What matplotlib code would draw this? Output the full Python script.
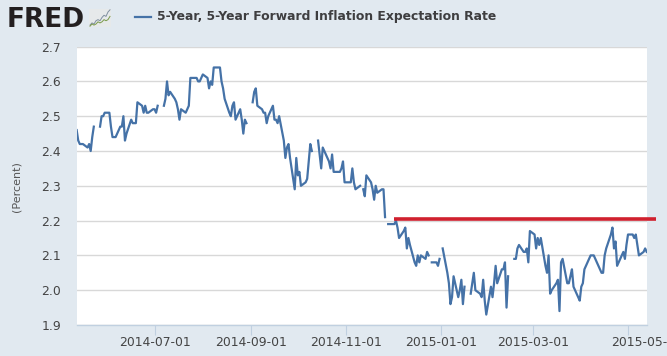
import numpy as np
import pandas as pd
import matplotlib
matplotlib.use('Agg')
import matplotlib.pyplot as plt
from matplotlib.transforms import ScaledTranslation

# chart data, business days, one list per stretch between market holidays
seg_starts = ['2014-05-12', '2014-05-27', '2014-07-07', '2014-09-02', '2014-10-14', '2014-11-12',
              '2014-11-28', '2014-12-26', '2015-01-02', '2015-01-20', '2015-02-17']
seg_values = [
    [2.46, 2.43, 2.42, 2.42, 2.42, 2.41, 2.42, 2.40, 2.44, 2.47],
    [2.47, 2.50, 2.50, 2.51, 2.51, 2.47, 2.44, 2.44, 2.44, 2.47, 2.47, 2.50, 2.43, 2.45,
     2.49, 2.48, 2.48, 2.48, 2.54, 2.53, 2.51, 2.53, 2.51, 2.51, 2.52, 2.52, 2.51, 2.53],
    [2.53, 2.55, 2.60, 2.56, 2.57, 2.55, 2.54, 2.52, 2.49, 2.52, 2.51, 2.52, 2.53, 2.61, 2.61,
     2.61, 2.60, 2.60, 2.61, 2.62, 2.61, 2.58, 2.60, 2.59, 2.64, 2.64, 2.64, 2.60, 2.58, 2.55,
     2.51, 2.50, 2.53, 2.54, 2.49, 2.52, 2.49, 2.45, 2.49, 2.48],
    [2.54, 2.57, 2.58, 2.53, 2.52, 2.51, 2.51, 2.48, 2.50, 2.53, 2.49, 2.49, 2.48, 2.50,
     2.43, 2.38, 2.41, 2.42, 2.38, 2.29, 2.38, 2.33, 2.34, 2.30, 2.31, 2.32, 2.37, 2.42, 2.40],
    [2.43, 2.39, 2.35, 2.41, 2.38, 2.37, 2.35, 2.39, 2.34, 2.34,
     2.34, 2.35, 2.37, 2.31, 2.31, 2.31, 2.35, 2.31, 2.29, 2.30],
    [2.29, 2.27, 2.33, 2.31, 2.29, 2.26, 2.30, 2.28, 2.29, 2.29, 2.21],
    [2.19, 2.19, 2.19, 2.20, 2.18, 2.15, 2.17, 2.18, 2.12, 2.15, 2.13,
     2.08, 2.07, 2.10, 2.08, 2.10, 2.09, 2.11, 2.10],
    [2.08, 2.08, 2.07, 2.09],
    [2.12, 2.05, 2.02, 1.96, 1.98, 2.04, 1.98, 2.00, 2.03, 1.96, 2.01],
    [1.99, 2.02, 2.05, 2.00, 1.99, 1.98, 2.03, 1.97, 1.93, 2.01,
     1.98, 2.02, 2.07, 2.02, 2.06, 2.06, 2.08, 1.95, 2.04],
    [2.09, 2.09, 2.12, 2.13, 2.11, 2.11, 2.12, 2.08, 2.17, 2.16, 2.12, 2.15, 2.13, 2.15,
     2.07, 2.05, 2.10, 1.99, 2.00, 2.02, 2.03, 1.94, 2.08, 2.09, 2.02, 2.02, 2.04, 2.06, 2.01,
     1.98, 1.97, 2.01, 2.02, 2.06, 2.09, 2.10, 2.10, 2.10, 2.09, 2.06, 2.05, 2.05, 2.10, 2.12,
     2.16, 2.18, 2.12, 2.14, 2.07, 2.10, 2.11, 2.09, 2.13, 2.16, 2.16, 2.15, 2.16, 2.13, 2.10,
     2.11, 2.12, 2.11],
]
series_name = '5-Year, 5-Year Forward Inflation Expectation Rate'
y_label = '(Percent)'
y_ticks = [1.9, 2.0, 2.1, 2.2, 2.3, 2.4, 2.5, 2.6, 2.7]
x_ticks = ['2014-07-01', '2014-09-01', '2014-11-01', '2015-01-01', '2015-03-01', '2015-05-01']
red_dates = ['2014-12-02', '2015-05-19']
red_values = [2.204, 2.204]
logo_a = [1, 3, 2, 5, 6, 5, 8, 10, 9, 13, 15]
logo_b = [0, 2, 1, 2, 4, 3, 4, 6, 5, 6, 9]

BG = '#e1e9f0'
LINE = '#4572a7'
W, H = 667, 356

fig = plt.figure(figsize=(W / 100, H / 100), dpi=100, facecolor=BG)
ax = fig.add_axes([77 / W, 1 - 325 / H, (646.7 - 77) / W, (325 - 46.6) / H])

# one line per stretch, so holidays stay as gaps
for start, vals in zip(seg_starts, seg_values):
    ax.plot(pd.bdate_range(start, periods=len(vals)), vals, color=LINE, lw=1.6, zorder=3)

ax.plot(pd.to_datetime(red_dates), red_values, color='#d0202e', lw=2.6, clip_on=False,
        solid_capstyle='butt', zorder=4)

ax.set_xlim(pd.Timestamp('2014-05-12 05:00'), pd.Timestamp('2015-05-13'))
ax.set_ylim(1.9, 2.7)
ax.set_yticks(y_ticks, [f'{v:.1f}' for v in y_ticks])
ax.set_xticks(pd.to_datetime(x_ticks), x_ticks)
ax.grid(axis='y', color='#d8d8d8', lw=1.0, zorder=1)
ax.set_axisbelow(True)
for s in ['top', 'right', 'left']:
    ax.spines[s].set_visible(False)
ax.spines['bottom'].set_color('#c0d0e0')
ax.spines['bottom'].set_linewidth(1)
ax.tick_params(axis='y', length=0, pad=11.5, labelsize=8.9, labelcolor='#444444')
ax.tick_params(axis='x', length=7, width=0.8, color='#c0d0e0', pad=0.8, labelsize=8.9, labelcolor='#444444')
ax.set_ylabel(y_label, fontsize=8, color='#555555')
ax.yaxis.set_label_coords(22 / W, 1 - 187 / H, transform=fig.transFigure)

# last label sits to the right of its tick and runs off the picture
last = ax.get_xticklabels()[-1]
last.set_transform(last.get_transform() + ScaledTranslation(18.7 / 100, 0, fig.dpi_scale_trans))

# header
fig.text(6.5 / W, 1 - 27 / H, 'FRED', fontsize=19, fontweight='bold', color='#231f20', va='baseline')
fig.text(157 / W, 1 - 16.5 / H, series_name, fontsize=8.9, fontweight='bold', color='#3e3e40', va='center')
fig.add_artist(plt.Line2D([135 / W, 151 / W], [1 - 16.5 / H, 1 - 16.5 / H], color=LINE, lw=1.6))

# small graph next to the logo
icon = fig.add_axes([89 / W, 1 - 27 / H, 22 / W, 18 / H], facecolor='#e6e9ea')
icon.plot(logo_a, color='#7f8f9f', lw=0.7)
icon.plot(logo_b, color='#7a9a4a', lw=0.7)
icon.set_xticks([])
icon.set_yticks([])
for s in icon.spines.values():
    s.set_visible(False)

fig.savefig('out.png', dpi=100, facecolor=BG)
